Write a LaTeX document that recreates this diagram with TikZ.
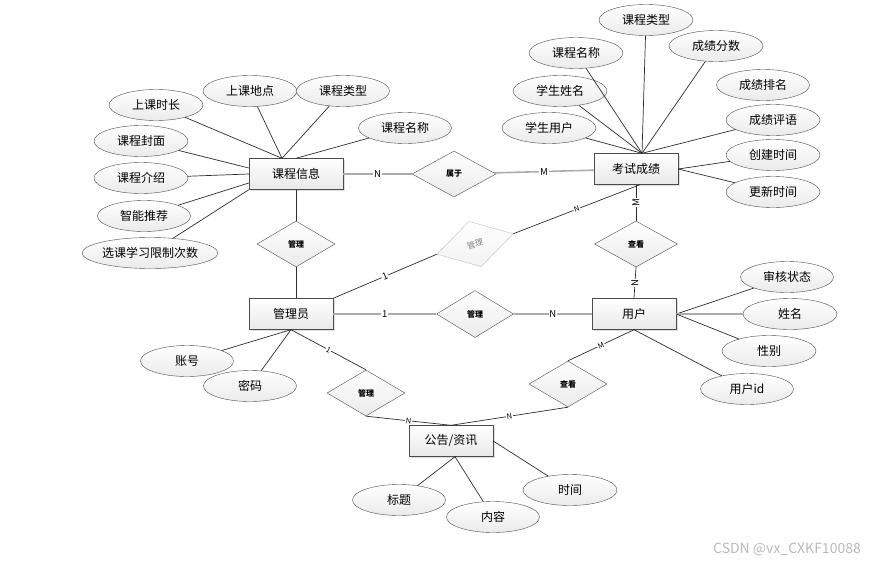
\documentclass[tikz,border=0pt]{standalone}
\usepackage{fontspec}
\setmainfont{Noto Sans CJK SC}
\usetikzlibrary{shapes.geometric,shadows}
\tikzset{
  ent/.style={draw=gray!60!black, top color=white, bottom color=gray!18,
    minimum width=84pt, minimum height=31pt, inner sep=0pt,
    font=\fontsize{12}{14}\selectfont,
    drop shadow={opacity=.25,shadow xshift=1.5pt,shadow yshift=-1.5pt}},
  attr/.style={ellipse, draw=gray!60!black, top color=white, bottom color=gray!16,
    minimum width=94pt, minimum height=31pt, inner sep=0pt,
    font=\fontsize{12}{14}\selectfont},
  rel/.style={diamond, draw=gray!60!black, top color=white, bottom color=gray!16,
    minimum width=78pt, minimum height=46pt, inner sep=0pt,
    font=\fontsize{8}{9}\selectfont\bfseries},
  lk/.style={draw=gray!35!black, line width=.7pt},
  rl/.style={draw=gray!65, line width=1.6pt},
  card/.style={fill=white, inner sep=.8pt, font=\fontsize{9.5}{10}\selectfont},
  cards/.style={card, font=\fontsize{7.5}{8}\selectfont},
}
\begin{document}
\begin{tikzpicture}[x=1pt,y=-1pt]
\useasboundingbox (0,0) rectangle (878,565);
% entities
\node[ent, minimum width=94pt] (kcxx) at (296,174) {课程信息};
\node[ent] (kscj) at (636,169) {考试成绩};
\node[ent] (gly) at (291,314) {管理员};
\node[ent] (yh) at (634,314) {用户};
\node[ent] (ggzx) at (451,441) {公告/资讯};
% relations
\node[rel, minimum width=84pt] (sy) at (454,174) {属于};
\node[rel] (gl1) at (296,244) {管理};
\node[rel, rotate=15, draw=gray!50, text=gray, bottom color=gray!10,
  font=\fontsize{8}{9}\selectfont, minimum width=79pt, minimum height=47pt] (gl2) at (475,244) {管理};
\node[rel, minimum width=77pt, minimum height=47pt] (gl3) at (475,314) {管理};
\node[rel, minimum width=83pt] (ck1) at (636,244) {查看};
\node[rel] (gl4) at (366,393) {管理};
\node[rel] (ck2) at (568,384) {查看};
% course attributes
\node[attr] (sksc) at (156,105) {上课时长};
\node[attr] (skdd) at (250,91) {上课地点};
\node[attr, minimum width=93pt] (kclx) at (343,91) {课程类型};
\node[attr, minimum width=93pt] (kcmc) at (405,128) {课程名称};
\node[attr] (kcfm) at (141,141) {课程封面};
\node[attr] (kcjs) at (141,178) {课程介绍};
\node[attr, minimum width=93pt] (zntj) at (144,216) {智能推荐};
\node[attr, minimum width=106pt] (xkcs) at (150,253) {选课学习限制次数};
% score attributes
\node[attr] (cjlx) at (646,20) {课程类型};
\node[attr] (cjmc) at (576,53) {课程名称};
\node[attr] (cjfs) at (716,46) {成绩分数};
\node[attr] (xsxm) at (560,91) {学生姓名};
\node[attr, minimum width=93pt] (cjpm) at (763,85) {成绩排名};
\node[attr] (xsyh) at (549,128) {学生用户};
\node[attr] (cjpy) at (773,120) {成绩评语};
\node[attr] (cjsj) at (773,155) {创建时间};
\node[attr] (gxsj) at (773,192) {更新时间};
% user attributes
\node[attr, minimum width=93pt] (shzt) at (787,277) {审核状态};
\node[attr] (xm) at (790,314) {姓名};
\node[attr] (xb) at (769,351) {性别};
\node[attr, minimum width=93pt] (yhid) at (747,389) {用户id};
% admin attributes
\node[attr, minimum width=93pt] (zh) at (187,361) {账号};
\node[attr, minimum width=93pt] (mm) at (250,386) {密码};
% notice attributes
\node[attr, minimum width=93pt] (bt) at (399,500) {标题};
\node[attr, minimum width=93pt] (nr) at (493,517) {内容};
\node[attr] (sj) at (570,490) {时间};
\node[text=gray!55, font=\fontsize{14}{16}\selectfont] (wm) at (787,549) {CSDN @vx\_CXKF10088};

% course lines
\draw[lk] (sksc) -- ([xshift=-14pt]kcxx.north);
\draw[lk] (skdd) -- ([xshift=-14pt]kcxx.north);
\draw[lk] (kclx) -- ([xshift=-14pt]kcxx.north);
\draw[lk] (kcmc) -- (kcxx.north);
\draw[lk] (kcfm) -- ([yshift=6pt]kcxx.west);
\draw[lk] (kcjs) -- (kcxx.west);
\draw[lk] (zntj) -- ([yshift=-9pt]kcxx.west);
\draw[lk] (xkcs) -- (kcxx.south west);
% score lines
\draw[lk] (cjlx) -- ([xshift=6pt]kscj.north);
\draw[lk] (cjmc) -- ([xshift=6pt]kscj.north);
\draw[lk] (cjfs) -- ([xshift=6pt]kscj.north);
\draw[lk] (xsxm) -- ([xshift=6pt]kscj.north);
\draw[lk] (xsyh) -- ([xshift=6pt]kscj.north);
\draw[lk] (cjpy) -- ([xshift=6pt]kscj.north);
\draw[lk] (cjsj) -- (kscj.east);
\draw[lk] (gxsj) -- (kscj.east);
% user lines
\draw[lk] (shzt) -- (yh.east);
\draw[rl] (xm) -- (yh.east);
\draw[lk] (xb) -- (yh.east);
\draw[lk] (yhid) -- (yh.south);
% admin and notice lines
\draw[lk] (zh) -- (gly.south);
\draw[lk] (mm) -- (gly.south);
\draw[lk] (bt) -- ([xshift=4pt]ggzx.south);
\draw[lk] (nr) -- ([xshift=4pt]ggzx.south);
\draw[lk] (sj) -- (ggzx.east);

% relationship lines
\draw[rl] (kcxx) -- node[card]{N} (sy);
\draw[rl] (sy) -- node[card]{M} (kscj);
\draw[lk] (kcxx.south) -- (gl1.north);
\draw[lk] (gl1.south) -- (gl1.south |- gly.north);
\draw[lk] (gly.north east) -- node[card, sloped]{1} (gl2.west);
\draw[lk] (gl2.east) -- node[cards, sloped]{N} ([xshift=4pt]kscj.south);
\draw[rl] (gly) -- node[card]{1} (gl3);
\draw[rl] (gl3) -- node[card]{N} (yh);
\draw[lk] (kscj.south) -- node[card, rotate=90]{M} (ck1.north);
\draw[lk] (ck1.south) -- node[card, rotate=90]{N} (yh.north);
\draw[lk] (gly.south) -- node[cards, sloped]{1} (gl4.north);
\draw[lk] (gl4.south) -- node[cards, sloped]{N} (ggzx.north);
\draw[lk] (ck2.south) -- node[cards, sloped]{N} (ggzx.north);
\draw[lk] (yh.south) -- node[cards, sloped]{M} (ck2.north);
\end{tikzpicture}
\end{document}
